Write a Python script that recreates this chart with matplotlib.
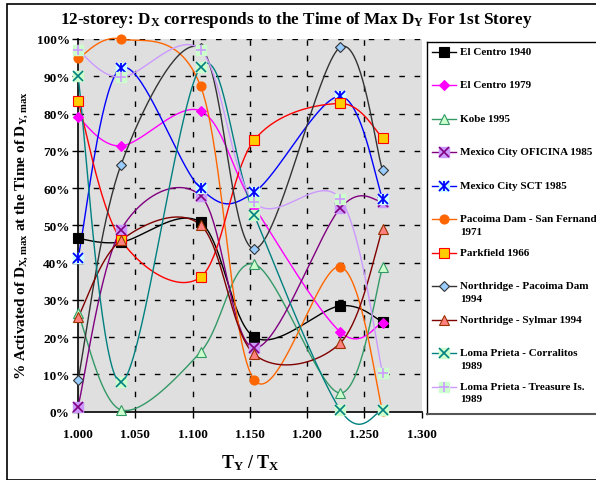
import numpy as np
import matplotlib
matplotlib.use("Agg")
import matplotlib.pyplot as plt
from matplotlib.patches import Rectangle
from matplotlib.ticker import PercentFormatter, MultipleLocator

plt.rcParams['font.family'] = ['Liberation Serif', 'DejaVu Serif']
plt.rcParams['font.weight'] = 'bold'
plt.rcParams['mathtext.fontset'] = 'custom'
plt.rcParams['mathtext.rm'] = 'Liberation Serif:bold'
plt.rcParams['mathtext.it'] = 'Liberation Serif:bold'
plt.rcParams['mathtext.bf'] = 'Liberation Serif:bold'

# ---- data ----
tratio = [1.000, 1.0375, 1.107, 1.154, 1.229, 1.266]

el_centro_1940 = [46.5, 45.5, 50.8, 20.0, 28.4, 24.1]
el_centro_1979 = [79.0, 71.3, 80.7, 55.0, 21.4, 23.9]
kobe_1995 = [26.5, 0.5, 16.0, 39.6, 5.0, 38.7]
mexico_oficina = [1.3, 48.8, 58.0, 17.1, 54.6, 56.3]
mexico_sct = [41.2, 92.2, 59.9, 58.9, 84.6, 57.2]
pacoima_sf = [94.8, 100.0, 87.4, 8.5, 38.9, 0.3]
parkfield = [83.4, 46.1, 36.1, 72.9, 82.7, 73.5]
northridge_pd = [8.4, 66.2, 97.6, 43.7, 97.8, 64.8]
northridge_sylmar = [25.3, 46.0, 50.1, 15.4, 18.4, 49.0]
loma_corralitos = [90.0, 7.9, 92.4, 52.7, 0.5, 0.5]
loma_treasure = [97.0, 89.7, 97.1, 56.2, 57.1, 10.4]

labels = ["El Centro 1940", "El Centro 1979", "Kobe 1995",
          "Mexico City OFICINA 1985", "Mexico City SCT 1985",
          "Pacoima Dam - San Fernando\n1971", "Parkfield 1966",
          "Northridge - Pacoima Dam\n1994", "Northridge - Sylmar 1994",
          "Loma Prieta - Corralitos\n1989", "Loma Prieta - Treasure Is.\n1989"]

series = [el_centro_1940, el_centro_1979, kobe_1995, mexico_oficina, mexico_sct,
          pacoima_sf, parkfield, northridge_pd, northridge_sylmar,
          loma_corralitos, loma_treasure]

# style: (line color, marker, marker face, marker edge, background square color)
styles = [
    ('#000000', 's', '#000000', '#000000', None),
    ('#FF00FF', 'D', '#FF00FF', '#FF00FF', None),
    ('#339966', '^', '#CCFFCC', '#339966', None),
    ('#800080', 'x', '#800080', '#800080', '#CC99FF'),
    ('#0000FF', 'star', '#0000FF', '#0000FF', '#CCFFFF'),
    ('#FF6600', 'o', '#FF6600', '#FF6600', None),
    ('#FF0000', 's', '#FFCC00', '#FF0000', None),
    ('#333333', 'D', '#99CCFF', '#333333', None),
    ('#800000', '^', '#FF8080', '#993300', None),
    ('#008080', 'x', '#008080', '#008080', '#CCFFCC'),
    ('#CC99FF', '+', '#CC99FF', '#CC99FF', '#CCFFCC'),
]

W, H = 596, 481
fig = plt.figure(figsize=(W / 100, H / 100), dpi=100)

ax_l, ax_r, ax_t, ax_b = 78, 421.5, 40, 412.7
ax = fig.add_axes([ax_l / W, (H - ax_b) / H, (ax_r - ax_l) / W, (ax_b - ax_t) / H])
ax.set_facecolor('#DFDFDF')
ax.set_xlim(1.0, 1.3)
ax.set_ylim(0, 100)

px_x = (ax_r - ax_l) / 0.3
px_y = (ax_b - ax_t) / 100.0


def smooth(xs, ys, n=40):
    # Bezier smoothing in screen space (Excel-style smoothed line)
    P = np.column_stack([(np.array(xs) - 1.0) * px_x, np.array(ys) * px_y])
    out = []
    m = len(P)
    for i in range(m - 1):
        p0 = P[i - 1] if i > 0 else P[i]
        p1 = P[i]
        p2 = P[i + 1]
        p3 = P[i + 2] if i + 2 < m else P[i + 1]
        c1 = p1 + (p2 - p0) / 6.0
        c2 = p2 - (p3 - p1) / 6.0
        t = np.linspace(0, 1, n)[:, None]
        seg = ((1 - t) ** 3) * p1 + 3 * ((1 - t) ** 2) * t * c1 + 3 * (1 - t) * t ** 2 * c2 + t ** 3 * p2
        out.append(seg if i == 0 else seg[1:])
    out = np.vstack(out)
    return out[:, 0] / px_x + 1.0, out[:, 1] / px_y


def draw_marker(a, x, y, st, ms=6.5, clip=False, z=4):
    col, mk, fc, ec, bg = st
    if bg is not None:
        a.plot(x, y, linestyle='none', marker='s', ms=ms + 1, mfc=bg, mec=bg,
               clip_on=clip, zorder=z)
    if mk == 'star':
        a.plot(x, y, linestyle='none', marker='x', ms=ms, mec=ec, mew=1.3, clip_on=clip, zorder=z + 0.1)
        a.plot(x, y, linestyle='none', marker='|', ms=ms, mec=ec, mew=1.3, clip_on=clip, zorder=z + 0.1)
    elif mk in ('x', '+'):
        a.plot(x, y, linestyle='none', marker=mk, ms=ms, mec=ec, mew=1.2, clip_on=clip, zorder=z + 0.1)
    else:
        s = ms * 0.85 if mk == 'D' else ms
        a.plot(x, y, linestyle='none', marker=mk, ms=s, mfc=fc, mec=ec, mew=0.8,
               clip_on=clip, zorder=z + 0.1)


# grid
for v in np.arange(1.05, 1.30, 0.05):
    ax.axvline(v, color='black', lw=1.0, dashes=(4, 7), zorder=1)
for v in range(10, 101, 10):
    ax.axhline(v, color='black', lw=1.0, dashes=(4, 7), zorder=1)

for ys, st in zip(series, styles):
    sx, sy = smooth(tratio, ys)
    ax.plot(sx, sy, color=st[0], lw=1.0, zorder=3, clip_on=False)
for i, (ys, st) in enumerate(zip(series, styles)):
    draw_marker(ax, tratio, ys, st, z=4 + i * 0.2)

ax.xaxis.set_major_locator(MultipleLocator(0.05))
ax.yaxis.set_major_locator(MultipleLocator(10))
ax.xaxis.set_major_formatter(matplotlib.ticker.FormatStrFormatter('%.3f'))
ax.yaxis.set_major_formatter(PercentFormatter(decimals=0))
for s in ('top', 'right'):
    ax.spines[s].set_visible(False)
ax.spines['left'].set_linewidth(1.2)
ax.spines['bottom'].set_linewidth(1.2)
ax.tick_params(axis='both', direction='out', length=4, width=1, labelsize=9.5)
ax.tick_params(axis='y', pad=2)
ax.tick_params(axis='x', pad=8)
for t in ax.get_xticklabels() + ax.get_yticklabels():
    t.set_fontweight('bold')

fig.text(296 / W, 1 - 20 / H, r'12-storey: D$_{\mathrm{X}}$ corresponds to the Time of Max D$_{\mathrm{Y}}$ For 1st Storey',
         ha='center', va='center', fontsize=12.3, fontweight='bold')
fig.text(250 / W, 1 - 463 / H, r'T$_{\mathrm{Y}}$ / T$_{\mathrm{X}}$', ha='center', va='center',
         fontsize=13, fontweight='bold')
fig.text(22 / W, 1 - 236 / H, r'% Activated of D$_{\mathrm{X,max}}$ at the Time of D$_{\mathrm{Y,max}}$',
         ha='center', va='center', rotation=90, fontsize=11, fontweight='bold')

# outer frame
fig.patches.append(Rectangle((7 / W, 0.5 / H), 1.0, 1 - 5.5 / H, transform=fig.transFigure,
                             fill=False, edgecolor='black', lw=1.2))

# legend box
lg_l, lg_t, lg_b = 427.3, 42.7, 414.7
lax = fig.add_axes([lg_l / W, (H - lg_b) / H, (W + 10 - lg_l) / W, (lg_b - lg_t) / H])
lax.set_xlim(0, W + 10 - lg_l)
lax.set_ylim(lg_b - lg_t, 0)
lax.set_xticks([])
lax.set_yticks([])
lax.patch.set_alpha(0)
lax.spines['right'].set_visible(False)
for s in ('left', 'top'):
    lax.spines[s].set_linewidth(1.0)
lax.spines['bottom'].set_color('#555555')
lax.spines['bottom'].set_linewidth(1.5)

for i, (lab, st) in enumerate(zip(labels, styles)):
    yy = 10.0 + 33.5 * i
    lax.plot([5, 29], [yy, yy], color=st[0], lw=1.0, clip_on=False)
    draw_marker(lax, [17], [yy], st, clip=False)
    lax.text(33, yy - 5.0, lab, ha='left', va='top', fontsize=8, fontweight='bold', linespacing=1.5)

fig.savefig('out.png', dpi=100)
